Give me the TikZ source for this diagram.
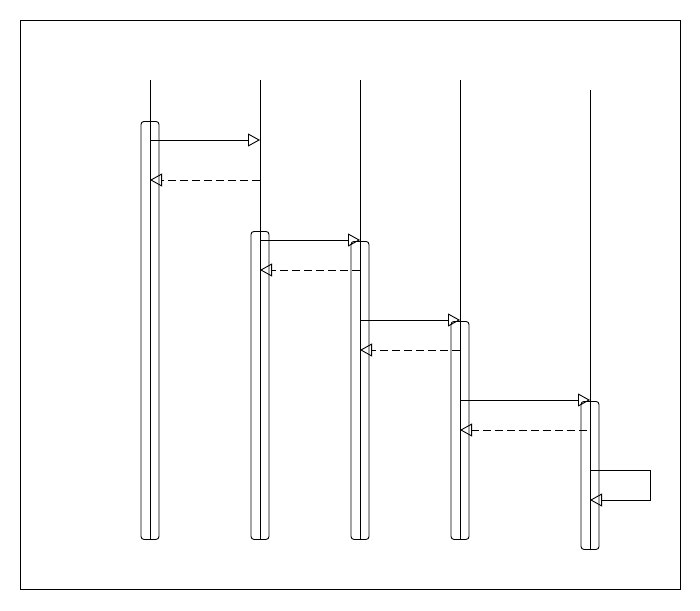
\documentclass[tikz,border=0pt]{standalone}
\usetikzlibrary{arrows.meta}
\begin{document}
\begin{tikzpicture}[x=1pt,y=-1pt,
  line width=0.9pt,
  lifeline/.style={draw=black},
  act/.style={draw=black, rounded corners=3pt, minimum width=18pt, inner sep=0pt, anchor=north},
  msg/.style={draw=black, -{Triangle[open,length=12pt,width=13pt]}},
  ret/.style={msg, dash pattern=on 8pt off 4pt}]
\useasboundingbox (0,0) rectangle (700,610);
\draw (20,20) rectangle (680,589);
% lifeline ends
\coordinate (t1) at (150,80);  \coordinate (b1) at (150,539);
\coordinate (t2) at (260,80);  \coordinate (b2) at (260,539);
\coordinate (t3) at (360,80);  \coordinate (b3) at (360,539);
\coordinate (t4) at (460,80);  \coordinate (b4) at (460,539);
\coordinate (t5) at (590,90);  \coordinate (b5) at (590,549);
% activations
\node[act, minimum height=418pt] (a1) at (150,121) {};
\node[act, minimum height=308pt] (a2) at (260,231) {};
\node[act, minimum height=298pt] (a3) at (360,241) {};
\node[act, minimum height=218pt] (a4) at (460,321) {};
\node[act, minimum height=148pt] (a5) at (590,401) {};
% lifelines
\foreach \i in {1,...,5} \draw[lifeline] (t\i) -- (b\i);
% message endpoints
\coordinate (m1a) at (150,140); \coordinate (m1b) at (260,140);
\coordinate (r1a) at (260,180); \coordinate (r1b) at (150,180);
\coordinate (m2a) at (260,240); \coordinate (m2b) at (360,240);
\coordinate (r2a) at (360,270); \coordinate (r2b) at (260,270);
\coordinate (m3a) at (360,320); \coordinate (m3b) at (460,320);
\coordinate (r3a) at (460,350); \coordinate (r3b) at (360,350);
\coordinate (m4a) at (460,400); \coordinate (m4b) at (590,400);
\coordinate (r4a) at (587,430); \coordinate (r4b) at (460,430);
\coordinate (s1) at (590,470); \coordinate (s2) at (650,470);
\coordinate (s3) at (650,500); \coordinate (s4) at (590,500);
\draw[msg] (m1a) -- (m1b);
\draw[ret] (r1a) -- (r1b);
\draw[msg] (m2a) -- (m2b);
\draw[ret] (r2a) -- (r2b);
\draw[msg] (m3a) -- (m3b);
\draw[ret] (r3a) -- (r3b);
\draw[msg] (m4a) -- (m4b);
\draw[ret] (r4a) -- (r4b);
\draw[msg] (s1) -- (s2) -- (s3) -- (s4);
\end{tikzpicture}
\end{document}
